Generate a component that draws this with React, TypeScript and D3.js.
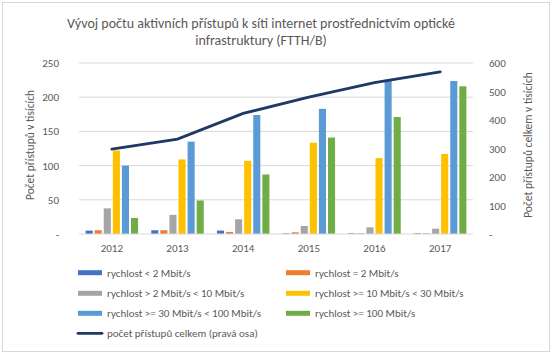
import React from "react";
import * as d3 from "d3";

const years = ["2012", "2013", "2014", "2015", "2016", "2017"];
const seriesNames = [
  "rychlost < 2 Mbit/s",
  "rychlost = 2 Mbit/s",
  "rychlost > 2 Mbit/s < 10 Mbit/s",
  "rychlost >= 10 Mbit/s < 30 Mbit/s",
  "rychlost >= 30 Mbit/s < 100 Mbit/s",
  "rychlost >= 100 Mbit/s",
];
const lt2 = [5, 5.5, 5, 1, 1, 1];
const eq2 = [5.5, 5.5, 3, 2.5, 1, 1];
const gt2lt10 = [37.5, 28, 21.5, 11.7, 9.7, 7.8];
const gt10lt30 = [122, 109, 107, 133.5, 111, 117];
const gt30lt100 = [100, 135, 174, 183, 225.6, 223.7];
const gt100 = [23.5, 49, 87, 141, 171, 216];
const total = [298, 333, 423, 480, 531, 569];
const leftTicks = [0, 50, 100, 150, 200, 250];
const rightTicks = [0, 100, 200, 300, 400, 500, 600];
const lineName = "počet přístupů celkem (pravá osa)";

const colors = ["#4472C4", "#ED7D31", "#A5A5A5", "#FFC000", "#5B9BD5", "#70AD47"];
const lineColor = "#203864";
const textColor = "#595959";
const font = "Carlito, 'Liberation Sans', Arial, sans-serif";

export default function App() {
  const W = 554, H = 355;
  const plotL = 79, plotR = 473, plotT = 63, plotB = 234;
  const series = [lt2, eq2, gt2lt10, gt10lt30, gt30lt100, gt100];

  const x = d3.scaleBand().domain(years).range([plotL, plotR]).paddingInner(0).paddingOuter(0);
  const inner = d3.scaleBand<number>().domain(d3.range(6)).range([0, 52.5]).paddingInner(0.22);
  const yL = d3.scaleLinear().domain([0, 250]).range([plotB, plotT]);
  const yR = d3.scaleLinear().domain([0, 600]).range([plotB, plotT]);
  const line = d3
    .line<number>()
    .x((_, i) => x(years[i])! + x.bandwidth() / 2)
    .y((d) => yR(d));

  const legendRows = [
    [0, 1],
    [2, 3],
    [4, 5],
  ];
  const legY = [272.7, 293.3, 313.3];
  const legX = [78, 286];
  const fs = 11;

  return (
    <svg width={W} height={H} style={{ display: "block", position: "absolute", left: 0, top: 0 }} fontFamily={font}>
      <rect x={0} y={0} width={W} height={H} fill="#fff" />
      <rect x={2.5} y={2.5} width={547} height={349} fill="#fff" stroke="#d9d9d9" strokeWidth={1} />
      <text x={261} y={28} textAnchor="middle" fontSize={14} fill={textColor}>
        Vývoj počtu aktivních přístupů k síti internet prostřednictvím optické
      </text>
      <text x={261} y={45} textAnchor="middle" fontSize={14} fill={textColor}>
        infrastruktury (FTTH/B)
      </text>

      {leftTicks.map((t) => (
        <g key={"g" + t}>
          {t > 0 && <line x1={plotL} x2={plotR} y1={yL(t)} y2={yL(t)} stroke="#d9d9d9" strokeWidth={1} />}
          <text x={59} y={yL(t) + 4} textAnchor="end" fontSize={fs} fill={textColor}>
            {t === 0 ? "-" : t}
          </text>
        </g>
      ))}
      {rightTicks.map((t) => (
        <text key={"r" + t} x={489} y={yR(t) + 4} textAnchor="start" fontSize={fs} fill={textColor}>
          {t === 0 ? "-" : t}
        </text>
      ))}

      {years.map((yr, i) => (
        <g key={yr}>
          {series.map((s, k) => {
            const bx = x(yr)! + x.bandwidth() / 2 - 26.25 + inner(k)!;
            return (
              <rect key={k} x={bx} y={yL(s[i])} width={inner.bandwidth()} height={plotB - yL(s[i])} fill={colors[k]} />
            );
          })}
          <text x={x(yr)! + x.bandwidth() / 2} y={252} textAnchor="middle" fontSize={fs} fill={textColor}>
            {yr}
          </text>
        </g>
      ))}
      <line x1={plotL} x2={plotR} y1={plotB} y2={plotB} stroke="#d9d9d9" strokeWidth={1} />

      <path d={line(total)!} fill="none" stroke={lineColor} strokeWidth={2.8} strokeLinecap="round" />

      <text transform={`translate(34,145) rotate(-90)`} textAnchor="middle" fontSize={11.5} fill={textColor}>
        Počet přístupů v tisících
      </text>
      <text transform={`translate(532,145) rotate(-90)`} textAnchor="middle" fontSize={11.5} fill={textColor}>
        Počet přístupů celkem v tisících
      </text>

      {legendRows.map((row, r) =>
        row.map((k, c) => (
          <g key={"l" + k}>
            <rect x={legX[c]} y={legY[r] - 2.5} width={24} height={5} fill={colors[k]} />
            <text x={legX[c] + 29} y={legY[r] + 4} fontSize={fs} fill={textColor}>
              {seriesNames[k]}
            </text>
          </g>
        ))
      )}
      <line x1={78} x2={102} y1={333.3} y2={333.3} stroke={lineColor} strokeWidth={2.8} strokeLinecap="round" />
      <text x={107} y={337.3} fontSize={fs} fill={textColor}>
        {lineName}
      </text>
    </svg>
  );
}
